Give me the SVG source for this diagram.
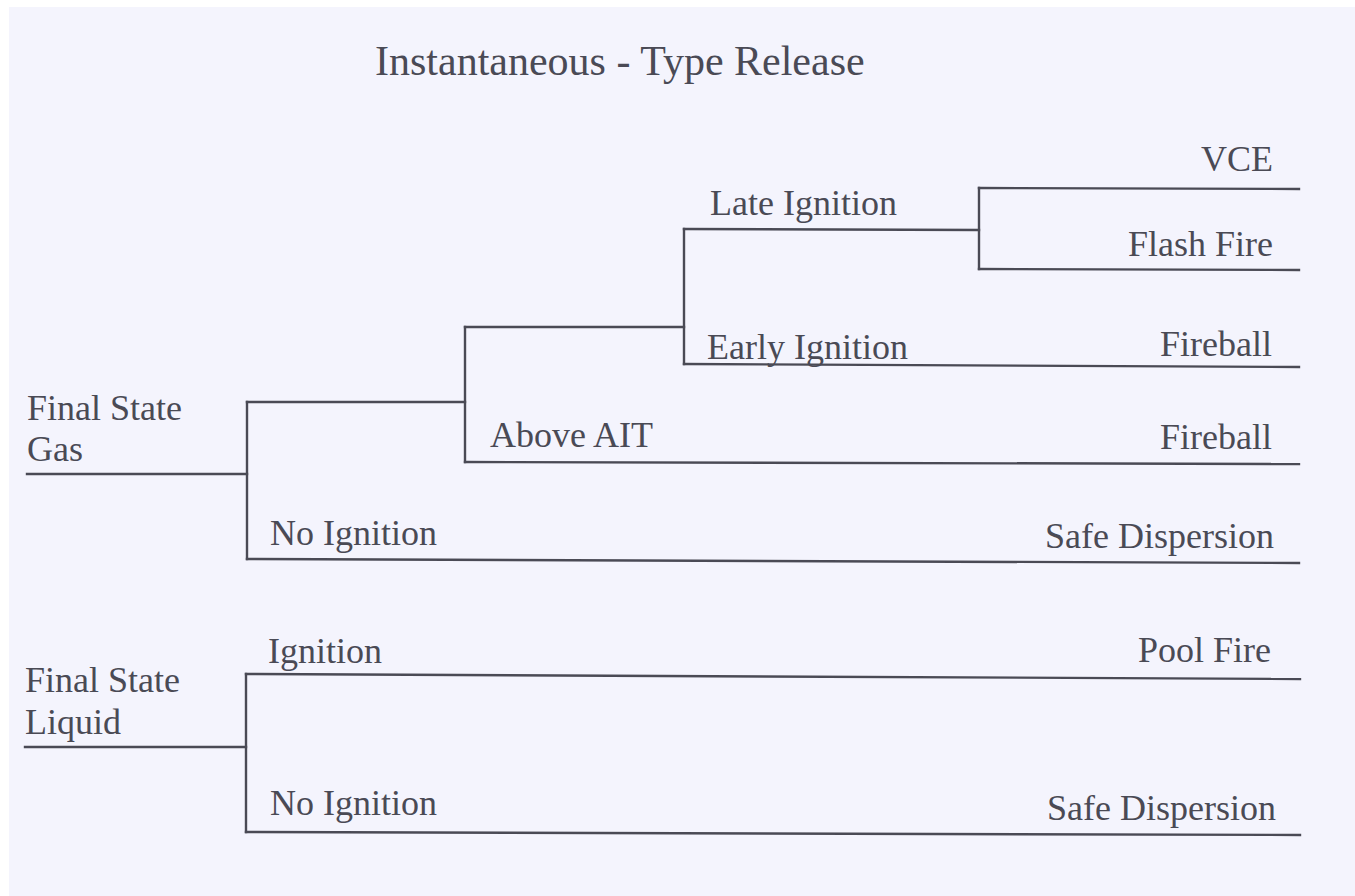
<svg xmlns="http://www.w3.org/2000/svg" width="1355" height="896" viewBox="0 0 1355 896">
<style>
  .t { font-family: 'Liberation Serif', 'DejaVu Serif', serif; font-size: 36px; fill: #4a4a55; }
  .r { text-anchor: end; }
  .title { font-size: 42px; }
  .c { fill: none; stroke: #4a4a55; stroke-width: 2.4; stroke-linecap: square; }
</style>
<rect x="0" y="0" width="1355" height="896" fill="#ffffff"/>
<rect x="9" y="7" width="1346" height="889" fill="#f4f4fd"/>
<g id="title"><text class="t title" x="375" y="75" font-family="Liberation Serif">Instantaneous - Type Release</text></g>
<g id="connectors">
  <path class="c" d="M27 474 H247"/>
  <path class="c" d="M247 402 V559"/>
  <path class="c" d="M247 402 H465"/>
  <path class="c" d="M465 327 V462"/>
  <path class="c" d="M465 327 H684"/>
  <path class="c" d="M684 229 V364"/>
  <path class="c" d="M684 229 L979 230"/>
  <path class="c" d="M979 188 V269"/>
  <path class="c" d="M979 188 L1299 189"/>
  <path class="c" d="M979 269 L1299 270"/>
  <path class="c" d="M684 364 L1299 367"/>
  <path class="c" d="M465 462 L1299 464"/>
  <path class="c" d="M247 559 L1299 563"/>
  <path class="c" d="M25 747 H246"/>
  <path class="c" d="M246 674 V832"/>
  <path class="c" d="M246 674 L1300 679"/>
  <path class="c" d="M246 832 L1300 835"/>
</g>
<g id="gas"><text class="t" x="27" y="420">Final State</text><text class="t" x="27" y="461">Gas</text></g>
<g id="liquid"><text class="t" x="25" y="692">Final State</text><text class="t" x="25" y="734">Liquid</text></g>
<g id="late-ignition"><text class="t" x="710" y="215">Late Ignition</text></g>
<g id="early-ignition"><text class="t" x="707" y="359">Early Ignition</text></g>
<g id="above-ait"><text class="t" x="490" y="447">Above AIT</text></g>
<g id="gas-no-ignition"><text class="t" x="270" y="545">No Ignition</text></g>
<g id="liquid-ignition"><text class="t" x="268" y="663">Ignition</text></g>
<g id="liquid-no-ignition"><text class="t" x="270" y="815">No Ignition</text></g>
<g id="vce"><text class="t r" x="1273" y="171">VCE</text></g>
<g id="flash-fire"><text class="t r" x="1273" y="256">Flash Fire</text></g>
<g id="fireball-early"><text class="t r" x="1272" y="356">Fireball</text></g>
<g id="fireball-ait"><text class="t r" x="1272" y="449">Fireball</text></g>
<g id="safe-dispersion-gas"><text class="t r" x="1274" y="548">Safe Dispersion</text></g>
<g id="pool-fire"><text class="t r" x="1271" y="662">Pool Fire</text></g>
<g id="safe-dispersion-liquid"><text class="t r" x="1276" y="820">Safe Dispersion</text></g>
</svg>
